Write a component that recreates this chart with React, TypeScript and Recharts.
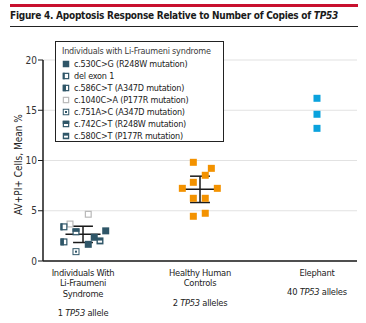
import React from 'react';
import { ScatterChart, Scatter, XAxis, YAxis, CartesianGrid, ReferenceLine } from 'recharts';

const FONT = "'Liberation Sans Narrow', 'DejaVu Sans Condensed', Roboto, sans-serif";

// categories (x positions 1,2,3)
const categoryNames: string[][] = [
  ['Individuals With', 'Li-Fraumeni', 'Syndrome'],
  ['Healthy Human', 'Controls'],
  ['Elephant'],
];
const alleleCounts = ['1', '2', '40'];
const alleleWords = ['allele', 'alleles', 'alleles'];

// Li-Fraumeni individuals
const lfsValues = [4.65, 3.68, 3.4, 2.9, 3.0, 2.36, 2.0, 1.9, 1.66, 0.93];
const lfsX = [1.045, 0.889, 0.837, 0.94, 1.194, 1.096, 1.145, 0.837, 1.045, 0.94];
const lfsMutation = ['c.1040C>A', 'c.1040C>A', 'del exon 1', 'c.742C>T', 'c.530C>G', 'c.530C>G', 'c.580C>T', 'c.586C>T', 'c.530C>G', 'c.751A>C'];

// healthy human controls
const healthyValues = [9.82, 9.22, 8.53, 7.83, 7.23, 7.23, 6.24, 6.24, 4.75, 4.45];
const healthyX = [1.943, 2.097, 2.045, 1.943, 1.849, 2.148, 1.943, 2.045, 2.045, 1.943];

// elephant
const elephantValues = [16.19, 14.6, 13.2];
const elephantX = [3, 3, 3];

// mean ± SD
const groupX = [1, 2];
const groupMeans = [2.65, 7.13];
const groupSD = [0.81, 1.31];

// legend
const legendTitle = 'Individuals with Li-Fraumeni syndrome';
const legendLabels = [
  'c.530C>G (R248W mutation)',
  'del exon 1',
  'c.586C>T (A347D mutation)',
  'c.1040C>A (P177R mutation)',
  'c.751A>C (A347D mutation)',
  'c.742C>T (R248W mutation)',
  'c.580C>T (P177R mutation)',
];
const legendKinds = ['c.530C>G', 'del exon 1', 'c.586C>T', 'c.1040C>A', 'c.751A>C', 'c.742C>T', 'c.580C>T'];

const yTicks = [0, 5, 10, 15, 20];

const DARK = '#2f5668';
const GRAY = '#b9b9b9';
const ORANGE = '#f39200';
const BLUE = '#0aa2dd';

function Marker({ kind, cx, cy, s = 7 }: { kind: string; cx: number; cy: number; s?: number }) {
  const x = cx - s / 2;
  const y = cy - s / 2;
  switch (kind) {
    case 'c.530C>G':
      return <rect x={x} y={y} width={s} height={s} fill={DARK} />;
    case 'del exon 1':
      return (
        <g>
          <rect x={x + 0.6} y={y + 0.6} width={s - 1.2} height={s - 1.2} fill="#fff" stroke={DARK} strokeWidth={1.2} />
          <rect x={x} y={y} width={s * 0.32} height={s} fill={DARK} />
        </g>
      );
    case 'c.586C>T':
      return (
        <g>
          <rect x={x + 0.6} y={y + 0.6} width={s - 1.2} height={s - 1.2} fill="#fff" stroke={DARK} strokeWidth={1.2} />
          <rect x={x} y={y} width={s / 2} height={s} fill={DARK} />
        </g>
      );
    case 'c.1040C>A':
      return <rect x={x + 0.6} y={y + 0.6} width={s - 1.2} height={s - 1.2} fill="#fff" stroke={GRAY} strokeWidth={1.2} />;
    case 'c.751A>C':
      return (
        <g>
          <rect x={x + 0.5} y={y + 0.5} width={s - 1} height={s - 1} fill="#fff" stroke={DARK} strokeWidth={1} />
          <rect x={cx - 1} y={cy - 1} width={2} height={2} fill={DARK} />
        </g>
      );
    case 'c.742C>T':
      return (
        <g>
          <rect x={x + 0.6} y={y + 0.6} width={s - 1.2} height={s - 1.2} fill="#fff" stroke={DARK} strokeWidth={1.2} />
          <rect x={x} y={y} width={s} height={s / 2} fill={DARK} />
        </g>
      );
    case 'c.580C>T':
      return (
        <g>
          <rect x={x} y={y} width={s} height={s} fill={DARK} />
          <rect x={x + s * 0.2} y={y + s * 0.45} width={s * 0.6} height={s * 0.3} fill="#fff" />
        </g>
      );
    default:
      return <rect x={x} y={y} width={s} height={s} fill={DARK} />;
  }
}

const lfsData = lfsValues.map((v, i) => ({ x: lfsX[i], y: v, kind: lfsMutation[i] }));
const healthyData = healthyValues.map((v, i) => ({ x: healthyX[i], y: v }));
const elephantData = elephantValues.map((v, i) => ({ x: elephantX[i], y: v }));

function XTick(props: any) {
  const { x, y, payload } = props;
  const idx = Math.round(payload.value) - 1;
  const names = categoryNames[idx] || [];
  const base = y + 6.5;
  const lh = 10.6;
  return (
    <g>
      <text textAnchor="middle" fontFamily={FONT} fontSize={9.3} letterSpacing={-0.25} fill="#222">
        {names.map((n, i) => (
          <tspan key={i} x={x} y={base + i * lh}>{n}</tspan>
        ))}
        <tspan x={x} y={base + (names.length - 1) * lh + 19.5}>
          {alleleCounts[idx] + ' '}
          <tspan fontStyle="italic">TP53</tspan>
          {' ' + alleleWords[idx]}
        </tspan>
      </text>
    </g>
  );
}

function YLabel(props: any) {
  const vb = props.viewBox || { x: 0, y: 60, width: 43, height: 201 };
  const cx = 18;
  const cy = vb.y + vb.height / 2 + 4;
  return (
    <text x={cx} y={cy} transform={`rotate(-90 ${cx} ${cy})`} textAnchor="middle" dominantBaseline="central" fontFamily={FONT} fontSize={10} fill="#222">
      AV+PI+ Cells, Mean %
    </text>
  );
}

export default function App() {
  return (
    <div style={{ position: 'relative', width: 366, height: 323, background: '#fff', fontFamily: FONT }}>
      <style>{'body{margin:0}'}</style>
      <div style={{ position: 'absolute', left: 10, top: 4, width: 348, height: 2.5, background: '#c8102e' }} />
      <div style={{ position: 'absolute', left: 10, top: 9, fontSize: 10, letterSpacing: -0.25, fontWeight: 600, color: '#1a1a1a', whiteSpace: 'nowrap', lineHeight: '14px' }}>
        Figure 4. Apoptosis Response Relative to Number of Copies of <i>TP53</i>
      </div>
      <div style={{ position: 'absolute', left: 10, top: 26, width: 348, height: 1, background: '#222' }} />
      <div style={{ position: 'absolute', left: 0, top: 0 }}>
        <ScatterChart width={366} height={323} margin={{ top: 60, right: 9, bottom: 2, left: 0 }}>
          <CartesianGrid horizontal vertical={false} stroke="#e2e2e2" strokeWidth={1.2} />
          <XAxis
            type="number"
            dataKey="x"
            domain={[0.658, 3.342]}
            ticks={[1, 2, 3]}
            tick={<XTick />}
            tickLine={false}
            axisLine={{ stroke: '#1a1a1a', strokeWidth: 1.5 }}
            height={60}
            interval={0}
            allowDataOverflow
          />
          <YAxis
            type="number"
            dataKey="y"
            domain={[0, 20]}
            ticks={yTicks}
            width={43}
            tickSize={5}
            tickMargin={1}
            tick={{ fontFamily: FONT, fontSize: 10, fill: '#333' }}
            tickLine={{ stroke: '#1a1a1a' }}
            axisLine={{ stroke: '#1a1a1a', strokeWidth: 1.5 }}
            label={<YLabel />}
            allowDataOverflow
          />
          {groupX.map((gx, i) => (
            <ReferenceLine key={'m' + i} segment={[{ x: gx - 0.15, y: groupMeans[i] }, { x: gx + 0.15, y: groupMeans[i] }]} stroke="#1a1a1a" strokeWidth={1.5} />
          ))}
          {groupX.map((gx, i) => (
            <ReferenceLine key={'u' + i} segment={[{ x: gx - 0.085, y: groupMeans[i] + groupSD[i] }, { x: gx + 0.085, y: groupMeans[i] + groupSD[i] }]} stroke="#1a1a1a" strokeWidth={1.5} />
          ))}
          {groupX.map((gx, i) => (
            <ReferenceLine key={'l' + i} segment={[{ x: gx - 0.085, y: groupMeans[i] - groupSD[i] }, { x: gx + 0.085, y: groupMeans[i] - groupSD[i] }]} stroke="#1a1a1a" strokeWidth={1.5} />
          ))}
          {groupX.map((gx, i) => (
            <ReferenceLine key={'v' + i} segment={[{ x: gx, y: groupMeans[i] - groupSD[i] }, { x: gx, y: groupMeans[i] + groupSD[i] }]} stroke="#1a1a1a" strokeWidth={1.5} />
          ))}
          <Scatter
            data={lfsData}
            isAnimationActive={false}
            shape={(p: any) => <Marker kind={p.payload.kind} cx={p.cx} cy={p.cy} />}
          />
          <Scatter
            data={healthyData}
            isAnimationActive={false}
            shape={(p: any) => <rect x={p.cx - 3.5} y={p.cy - 3.5} width={7} height={7} fill={ORANGE} />}
          />
          <Scatter
            data={elephantData}
            isAnimationActive={false}
            shape={(p: any) => <rect x={p.cx - 3.5} y={p.cy - 3.5} width={7} height={7} fill={BLUE} />}
          />
        </ScatterChart>
      </div>
      <div
        style={{
          position: 'absolute',
          left: 55,
          top: 41,
          width: 169,
          height: 101,
          border: '1px solid #222',
          background: '#fff',
          boxSizing: 'border-box',
          fontSize: 9,
          letterSpacing: -0.2,
          color: '#222',
        }}
      >
        <div style={{ position: 'absolute', left: 6, top: 3, whiteSpace: 'nowrap', lineHeight: '12px', color: '#3a3a3a' }}>{legendTitle}</div>
        {legendLabels.map((lab, i) => (
          <div key={i} style={{ position: 'absolute', left: 6, top: 15.5 + i * 12, height: 12, whiteSpace: 'nowrap', lineHeight: '12px', display: 'flex', alignItems: 'center' }}>
            <svg width={8} height={8} style={{ marginRight: 4 }}>
              <Marker kind={legendKinds[i]} cx={4} cy={4} s={6.5} />
            </svg>
            <span>{lab}</span>
          </div>
        ))}
      </div>
    </div>
  );
}
